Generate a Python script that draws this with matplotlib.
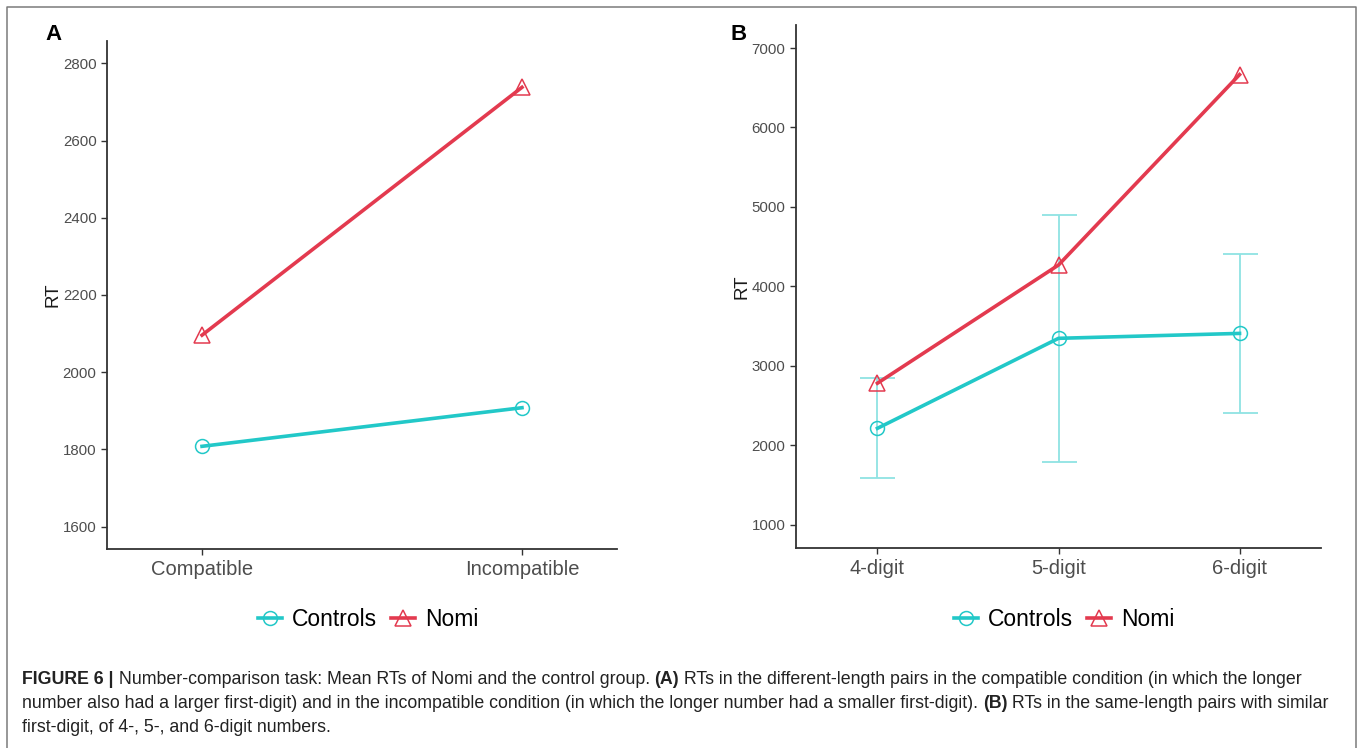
import matplotlib
matplotlib.use("Agg")
import matplotlib.pyplot as plt
from matplotlib.lines import Line2D

plt.rcParams['font.family'] = ['Liberation Sans', 'DejaVu Sans']

# ---------------- data ----------------
a_categories = ["Compatible", "Incompatible"]
a_controls = [1808, 1908]
a_nomi = [2096, 2738]

b_categories = ["4-digit", "5-digit", "6-digit"]
b_controls = [2212, 3345, 3407]
b_controls_err = [630, 1555, 1000]
b_nomi = [2780, 4268, 6665]

a_yticks = [1600, 1800, 2000, 2200, 2400, 2600, 2800]
b_yticks = [1000, 2000, 3000, 4000, 5000, 6000, 7000]

series_names = ["Controls", "Nomi"]
caption_lines = [
    [("FIGURE 6 |", True), (" Number-comparison task: Mean RTs of Nomi and the control group. ", False),
     ("(A)", True), (" RTs in the different-length pairs in the compatible condition (in which the longer", False)],
    [("number also had a larger first-digit) and in the incompatible condition (in which the longer number had a smaller first-digit). ", False),
     ("(B)", True), (" RTs in the same-length pairs with similar", False)],
    [("first-digit, of 4-, 5-, and 6-digit numbers.", False)],
]

# ---------------- style ----------------
C_CTRL = "#22C8C8"
C_NOMI = "#E33A4F"
C_ERR = "#8FE3E3"
W, H = 1360, 748
fig = plt.figure(figsize=(W / 100, H / 100), dpi=100)


def px_axes(x0, y0, x1, y1):
    return fig.add_axes([x0 / W, 1 - y1 / H, (x1 - x0) / W, (y1 - y0) / H])


def style_axes(ax):
    for s in ["top", "right"]:
        ax.spines[s].set_visible(False)
    for s in ["left", "bottom"]:
        ax.spines[s].set_color("#333333")
        ax.spines[s].set_linewidth(1.3)
    ax.tick_params(axis="y", colors="#333333", labelcolor="#4D4D4D", labelsize=10.8, length=4, width=1)
    ax.tick_params(axis="x", colors="#333333", labelcolor="#4D4D4D", labelsize=14.5, length=4, width=1, pad=4)
    ax.set_ylabel("RT", fontsize=13.5, color="#1a1a1a", labelpad=1)


# Panel A
axA = px_axes(107, 41, 617, 549)
xa = list(range(1, len(a_categories) + 1))
axA.plot(xa, a_controls, color=C_CTRL, lw=2.6, zorder=3)
axA.plot(xa, a_controls, ls="none", marker="o", ms=10, mfc="none", mec=C_CTRL, mew=1.1, zorder=4)
axA.plot(xa, a_nomi, color=C_NOMI, lw=2.6, zorder=3)
axA.plot(xa, a_nomi, ls="none", marker="^", ms=11, mfc="none", mec=C_NOMI, mew=1.1, zorder=4)
axA.set_xlim(0.703, 2.297)
axA.set_ylim(1542, 2858)
axA.set_xticks(xa)
axA.set_xticklabels(a_categories)
axA.set_yticks(a_yticks)
style_axes(axA)

# Panel B
axB = px_axes(796, 25, 1321, 548)
xb = list(range(1, len(b_categories) + 1))
axB.errorbar(xb, b_controls, yerr=b_controls_err, fmt="none", ecolor=C_ERR, elinewidth=1.3,
             capsize=12.6, capthick=1.3, zorder=2)
axB.plot(xb, b_controls, color=C_CTRL, lw=2.6, zorder=3)
axB.plot(xb, b_controls, ls="none", marker="o", ms=10, mfc="none", mec=C_CTRL, mew=1.1, zorder=4)
axB.plot(xb, b_nomi, color=C_NOMI, lw=2.6, zorder=3)
axB.plot(xb, b_nomi, ls="none", marker="^", ms=11, mfc="none", mec=C_NOMI, mew=1.1, zorder=4)
axB.set_xlim(0.55, 3.45)
axB.set_ylim(705, 7290)
axB.set_xticks(xb)
axB.set_xticklabels(b_categories)
axB.set_yticks(b_yticks)
style_axes(axB)

# Panel letters
fig.text(53 / W, 1 - 34 / H, "A", fontsize=16, fontweight="bold", ha="center", va="center")
fig.text(739 / W, 1 - 35 / H, "B", fontsize=16, fontweight="bold", ha="center", va="center")

# Legends
handles = [
    Line2D([], [], color=C_CTRL, lw=2.6, marker="o", ms=10, mfc="none", mec=C_CTRL, mew=1.1),
    Line2D([], [], color=C_NOMI, lw=2.6, marker="^", ms=11, mfc="none", mec=C_NOMI, mew=1.1),
]
for cx in (368, 1064):
    fig.legend(handles, series_names, loc="center", bbox_to_anchor=(cx / W, 1 - 620 / H),
               ncol=2, frameon=False, fontsize=16.5, handlelength=1.05, handletextpad=0.45,
               columnspacing=0.6, borderpad=0)

# Frame around the figure
frame = fig.add_axes([0, 0, 1, 1], facecolor="none")
frame.set_xlim(0, W)
frame.set_ylim(H, 0)
frame.axis("off")
frame.plot([7, 7, 1356, 1356], [H + 5, 7, 7, H + 5], color="#7a7a7a", lw=1.1, clip_on=False)

# Caption with mixed bold segments
renderer = fig.canvas.get_renderer()


def line_width(segs, size):
    tot = 0
    for txt, bold in segs:
        t = fig.text(0, 0, txt, fontsize=size, fontweight="bold" if bold else "normal")
        tot += t.get_window_extent(renderer).width
        t.remove()
    return tot


base = 11.5
target = 1318.0
size = base * target / line_width(caption_lines[1], base)
ys = [680, 704, 727]
for segs, y in zip(caption_lines, ys):
    x = 22.0
    for txt, bold in segs:
        t = fig.text(x / W, 1 - y / H, txt, fontsize=size, fontweight="bold" if bold else "normal",
                     color="#222222", ha="left", va="center")
        x += t.get_window_extent(renderer).width

fig.savefig("out.png", dpi=100)
